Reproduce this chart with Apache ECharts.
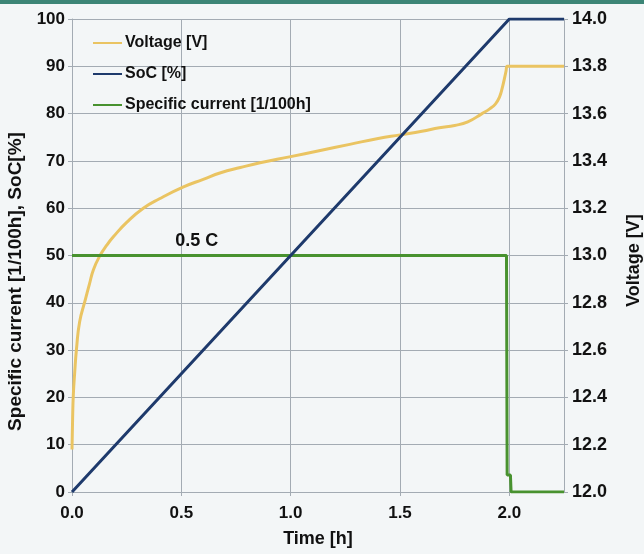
<!DOCTYPE html>
<html>
<head>
<meta charset="utf-8">
<script src="https://cdn.jsdelivr.net/npm/echarts@6/dist/echarts.min.js"></script>
<style>
html,body{margin:0;padding:0;background:#f3f6f7;}
#chart{width:644px;height:554px;}
</style>
</head>
<body>
<div id="chart"></div>
<script>
// Time axis ticks (h)
const xTicks = [0, 0.5, 1.0, 1.5, 2.0];

// Voltage [V] (right axis)
const voltageTime = [0, 0.003, 0.006, 0.012, 0.021, 0.035, 0.06, 0.08, 0.098, 0.128, 0.16, 0.19, 0.25, 0.326, 0.4, 0.51, 0.6, 0.68, 0.77, 0.86, 1.0, 1.13, 1.27, 1.4, 1.5, 1.6, 1.68, 1.75, 1.81, 1.875, 1.91, 1.936, 1.955, 1.968, 1.978, 1.985, 1.99, 2.25];
const voltageValues = [12.18, 12.32, 12.41, 12.50, 12.61, 12.72, 12.81, 12.88, 12.94, 13.00, 13.045, 13.08, 13.14, 13.20, 13.24, 13.29, 13.322, 13.35, 13.372, 13.392, 13.418, 13.443, 13.47, 13.495, 13.51, 13.525, 13.54, 13.55, 13.565, 13.60, 13.62, 13.64, 13.67, 13.71, 13.75, 13.78, 13.80, 13.80];

// SoC [%]
const socTime = [0, 2.0, 2.25];
const socValues = [0, 100, 100];

// Specific current [1/100h]
const currentTime = [0, 1.987, 1.99, 2.005, 2.008, 2.25];
const currentValues = [50, 50, 3.6, 3.6, 0, 0];

const seriesNames = ['Voltage [V]', 'SoC [%]', 'Specific current [1/100h]'];
const annotation = '0.5 C';

const zip = (a, b) => a.map((t, i) => [t, b[i]]);
const FONT = "'Liberation Sans', Arial, sans-serif";
const gridColor = '#a3abb3';

const chart = echarts.init(document.getElementById('chart'), null, {renderer: 'canvas'});
chart.setOption({
  animation: false,
  backgroundColor: '#f3f6f7',
  textStyle: {fontFamily: FONT},
  graphic: [{
    type: 'rect', left: 0, top: 0, shape: {width: 644, height: 4},
    style: {fill: '#3c8576'}, silent: true
  }],
  grid: {left: 72, right: 80, top: 19, bottom: 62, containLabel: false, outerBoundsMode: 'none'},
  legend: {
    data: seriesNames,
    orient: 'vertical',
    left: 93, top: 35, padding: 0,
    itemWidth: 29, itemHeight: 2, itemGap: 15,
    icon: 'rect',
    textStyle: {fontFamily: FONT, fontSize: 16, fontWeight: 'bold', color: '#111', padding: [0, 0, 0, -2]}
  },
  xAxis: {
    type: 'value', min: 0, max: 2.25, interval: 0.5,
    name: 'Time [h]', nameLocation: 'middle', nameGap: 38,
    nameTextStyle: {fontFamily: FONT, fontSize: 18, fontWeight: 'bold', color: '#111'},
    axisLine: {show: true, lineStyle: {color: gridColor, width: 1}},
    axisTick: {show: true, length: 4, lineStyle: {color: gridColor}},
    axisLabel: {
      margin: 13, fontFamily: FONT, fontSize: 17, fontWeight: 'bold', color: '#111',
      showMaxLabel: false,
      formatter: v => xTicks.some(t => Math.abs(t - v) < 1e-9) ? v.toFixed(1) : ''
    },
    splitLine: {show: true, lineStyle: {color: gridColor, width: 1}}
  },
  yAxis: [{
    type: 'value', min: 0, max: 100, interval: 10, position: 'left',
    name: 'Specific current [1/100h], SoC[%]', nameLocation: 'middle', nameGap: 44, nameRotate: 90,
    nameTextStyle: {fontFamily: FONT, fontSize: 19, fontWeight: 'bold', color: '#111', padding: [0, 52, 0, 0]},
    axisLine: {show: true, lineStyle: {color: gridColor, width: 1}},
    axisTick: {show: true, length: 4, lineStyle: {color: gridColor}},
    axisLabel: {margin: 7, fontFamily: FONT, fontSize: 17, fontWeight: 'bold', color: '#111'},
    splitLine: {show: true, lineStyle: {color: gridColor, width: 1}}
  }, {
    type: 'value', min: 12, max: 14, interval: 0.2, position: 'right',
    name: 'Voltage [V]', nameLocation: 'middle', nameGap: 61, nameRotate: 90,
    nameTextStyle: {fontFamily: FONT, fontSize: 18, fontWeight: 'bold', color: '#111', padding: [0, 10, 0, 0]},
    axisLine: {show: true, lineStyle: {color: gridColor, width: 1}},
    axisTick: {show: true, length: 4, lineStyle: {color: gridColor}},
    axisLabel: {margin: 8, fontFamily: FONT, fontSize: 18, fontWeight: 'bold', color: '#111',
      formatter: v => v.toFixed(1)},
    splitLine: {show: false}
  }],
  series: [{
    name: seriesNames[2], type: 'line', yAxisIndex: 0,
    data: zip(currentTime, currentValues),
    showSymbol: false, symbol: 'none',
    lineStyle: {color: '#48922f', width: 3}, itemStyle: {color: '#48922f'},
    z: 3,
    markPoint: {
      symbol: 'circle', symbolSize: 0,
      data: [{coord: [0.57, 53]}],
      label: {show: true, formatter: annotation, position: 'inside',
        fontFamily: FONT, fontSize: 18, fontWeight: 'bold', color: '#111'}
    }
  }, {
    name: seriesNames[1], type: 'line', yAxisIndex: 0,
    data: zip(socTime, socValues),
    showSymbol: false, symbol: 'none',
    lineStyle: {color: '#1e3a6c', width: 3}, itemStyle: {color: '#1e3a6c'},
    z: 4
  }, {
    name: seriesNames[0], type: 'line', yAxisIndex: 1,
    data: zip(voltageTime, voltageValues),
    showSymbol: false, symbol: 'none',
    smooth: 0.5,
    lineStyle: {color: '#eac462', width: 3}, itemStyle: {color: '#eac462'},
    z: 2
  }]
});
</script>
</body>
</html>
